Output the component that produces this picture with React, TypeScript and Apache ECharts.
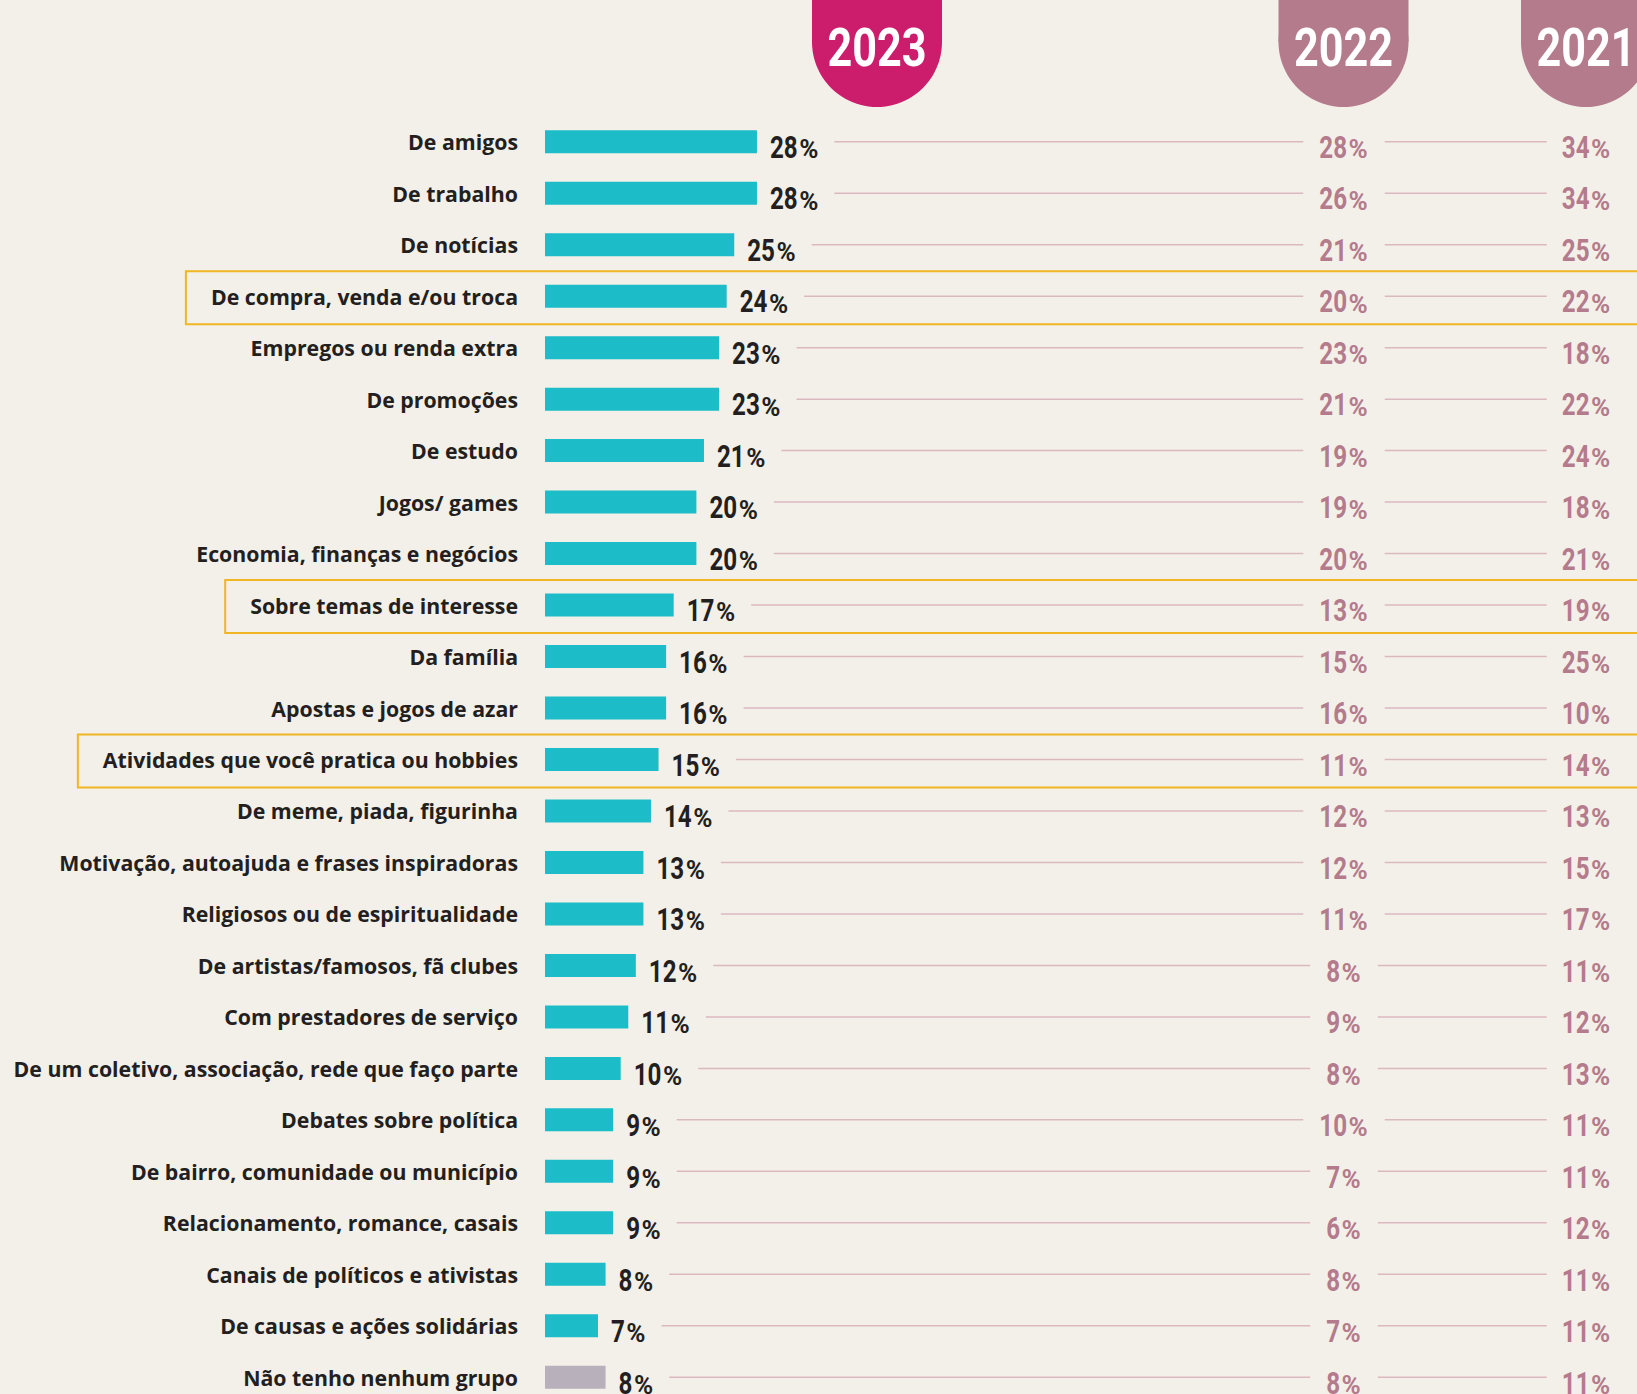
import React, { useEffect, useRef } from "react";
import * as echarts from "echarts";

const categories = [
  "De amigos",
  "De trabalho",
  "De notícias",
  "De compra, venda e/ou troca",
  "Empregos ou renda extra",
  "De promoções",
  "De estudo",
  "Jogos/ games",
  "Economia, finanças e negócios",
  "Sobre temas de interesse",
  "Da família",
  "Apostas e jogos de azar",
  "Atividades que você pratica ou hobbies",
  "De meme, piada, figurinha",
  "Motivação, autoajuda e frases inspiradoras",
  "Religiosos ou de espiritualidade",
  "De artistas/famosos, fã clubes",
  "Com prestadores de serviço",
  "De um coletivo, associação, rede que faço parte",
  "Debates sobre política",
  "De bairro, comunidade ou município",
  "Relacionamento, romance, casais",
  "Canais de políticos e ativistas",
  "De causas e ações solidárias",
  "Não tenho nenhum grupo",
];

const values2023 = [28, 28, 25, 24, 23, 23, 21, 20, 20, 17, 16, 16, 15, 14, 13, 13, 12, 11, 10, 9, 9, 9, 8, 7, 8];
const values2022 = [28, 26, 21, 20, 23, 21, 19, 19, 20, 13, 15, 16, 11, 12, 12, 11, 8, 9, 8, 10, 7, 6, 8, 7, 8];
const values2021 = [34, 34, 25, 22, 18, 22, 24, 18, 21, 19, 25, 10, 14, 13, 15, 17, 11, 12, 13, 11, 11, 12, 11, 11, 11];

const yearLabels = ["2023", "2022", "2021"];
const highlighted = [
  "De compra, venda e/ou troca",
  "Sobre temas de interesse",
  "Atividades que você pratica ou hobbies",
];
const noneCategory = "Não tenho nenhum grupo";

const BG = "#f3f0e9";
const TEAL = "#1cbdc8";
const GRAY_BAR = "#b8b1bc";
const DARK = "#231f20";
const MAUVE = "#b47b8c";
const LINE_COLOR = "#dbb8c0";
const MAGENTA = "#cc1c6c";
const YELLOW = "#f0b623";
const NUM_FONT = "Roboto, sans-serif";
const LABEL_FONT = '"Open Sans", "Noto Sans", sans-serif';
const LABEL_SIZE = 21.3;

const DIG_SIZE = 31;
const DIG_SCALE = 0.78;
const PCT_SIZE = 26;
const PCT_GAP = 1.5;

const COL22 = 1343.5;
const COL21 = 1586;
const COL23 = 877;
const LABEL_MARGIN = 27;

const canvas = typeof document !== "undefined" ? document.createElement("canvas") : null;
const ctx = canvas ? canvas.getContext("2d") : null;

function measure(text: string, font: string): number {
  if (!ctx) return text.length * 15;
  ctx.font = font;
  return ctx.measureText(text).width;
}
function digitsWidth(v: number): number {
  return measure(String(v), `bold ${DIG_SIZE}px ${NUM_FONT}`) * DIG_SCALE;
}
function pctWidth(): number {
  return measure("%", `bold ${PCT_SIZE}px ${NUM_FONT}`);
}
function totalWidth(v: number): number {
  return digitsWidth(v) + PCT_GAP + pctWidth();
}
function labelWidth(t: string): number {
  return measure(t, `bold ${LABEL_SIZE}px ${LABEL_FONT}`);
}

// number label: left edge x, baseline y
function numLabel(v: number, left: number, baseline: number, color: string): any[] {
  const wd = digitsWidth(v);
  return [
    {
      type: "text",
      x: left,
      y: baseline - DIG_SIZE * 0.35,
      scaleX: DIG_SCALE,
      style: {
        text: String(v),
        fill: color,
        font: `bold ${DIG_SIZE}px ${NUM_FONT}`,
        align: "left",
        verticalAlign: "middle",
      },
    },
    {
      type: "text",
      x: left + wd + PCT_GAP,
      y: baseline - PCT_SIZE * 0.35,
      style: {
        text: "%",
        fill: color,
        font: `bold ${PCT_SIZE}px ${NUM_FONT}`,
        align: "left",
        verticalAlign: "middle",
      },
    },
  ];
}

function badge(cx: number, color: string, text: string) {
  return {
    type: "group",
    children: [
      { type: "rect", shape: { x: cx - 65, y: -5, width: 130, height: 47 }, style: { fill: color } },
      { type: "circle", shape: { cx, cy: 42, r: 65 }, style: { fill: color } },
      {
        type: "text",
        x: cx,
        y: 47.5,
        scaleX: 0.8,
        style: {
          text,
          fill: "#ffffff",
          font: `bold 54px ${NUM_FONT}`,
          align: "center",
          verticalAlign: "middle",
        },
      },
    ],
  };
}

export default function App() {
  const ref = useRef<HTMLDivElement>(null);
  useEffect(() => {
    document.body.style.margin = "0";
    document.body.style.background = BG;
    const chart = echarts.init(ref.current!, null, { renderer: "svg" });
    const option: any = {
      animation: false,
      backgroundColor: BG,
      grid: { left: 545, top: 116, width: 757, height: 1287, containLabel: false, outerBoundsMode: "none" },
      xAxis: { type: "value", min: 0, max: 100, show: false },
      yAxis: {
        type: "category",
        inverse: true,
        data: categories,
        axisLine: { show: false },
        axisTick: { show: false },
        splitLine: { show: false },
        axisLabel: {
          margin: LABEL_MARGIN,
          fontFamily: LABEL_FONT,
          fontWeight: "bold",
          fontSize: LABEL_SIZE,
          color: DARK,
          interval: 0,
        },
      },
      graphic: [
        badge(COL23, MAGENTA, yearLabels[0]),
        badge(COL22, MAUVE, yearLabels[1]),
        badge(COL21, MAUVE, yearLabels[2]),
      ],
      series: [
        {
          type: "bar",
          barWidth: 23,
          data: values2023.map((v, i) => ({
            value: v,
            itemStyle: { color: categories[i] === noneCategory ? GRAY_BAR : TEAL },
          })),
          silent: true,
        },
        {
          type: "custom",
          silent: true,
          data: values2023.map((v, i) => [v, i]),
          encode: { x: 0, y: 1 },
          renderItem: (params: any, api: any) => {
            const i = params.dataIndex;
            const [xEnd, y] = api.coord([values2023[i], i]);
            const x0 = api.coord([0, i])[0];
            const baseline = y + 16.5;
            const w23 = totalWidth(values2023[i]);
            const w22 = totalWidth(values2022[i]);
            const w21 = totalWidth(values2021[i]);
            const l23 = xEnd + 13;
            const l22 = COL22 - w22 / 2;
            const l21 = COL21 - w21 / 2;
            const children: any[] = [];
            if (highlighted.includes(categories[i])) {
              const lw = labelWidth(categories[i]);
              const left = x0 - LABEL_MARGIN - lw - 25;
              children.push({
                type: "rect",
                shape: { x: left, y: y - 25, width: 1700 - left, height: 53 },
                style: { fill: "none", stroke: YELLOW, lineWidth: 2 },
              });
            }
            children.push({
              type: "line",
              shape: { x1: l23 + w23 + 16, y1: y, x2: l22 - 16, y2: y },
              style: { stroke: LINE_COLOR, lineWidth: 1.5 },
            });
            children.push({
              type: "line",
              shape: { x1: l22 + w22 + 17, y1: y, x2: l21 - 15, y2: y },
              style: { stroke: LINE_COLOR, lineWidth: 1.5 },
            });
            children.push(...numLabel(values2023[i], l23, baseline, DARK));
            children.push(...numLabel(values2022[i], l22, baseline, MAUVE));
            children.push(...numLabel(values2021[i], l21, baseline, MAUVE));
            return { type: "group", children };
          },
        },
      ],
    };
    chart.setOption(option);
    return () => chart.dispose();
  }, []);
  return <div ref={ref} style={{ width: 1637, height: 1394 }} />;
}
